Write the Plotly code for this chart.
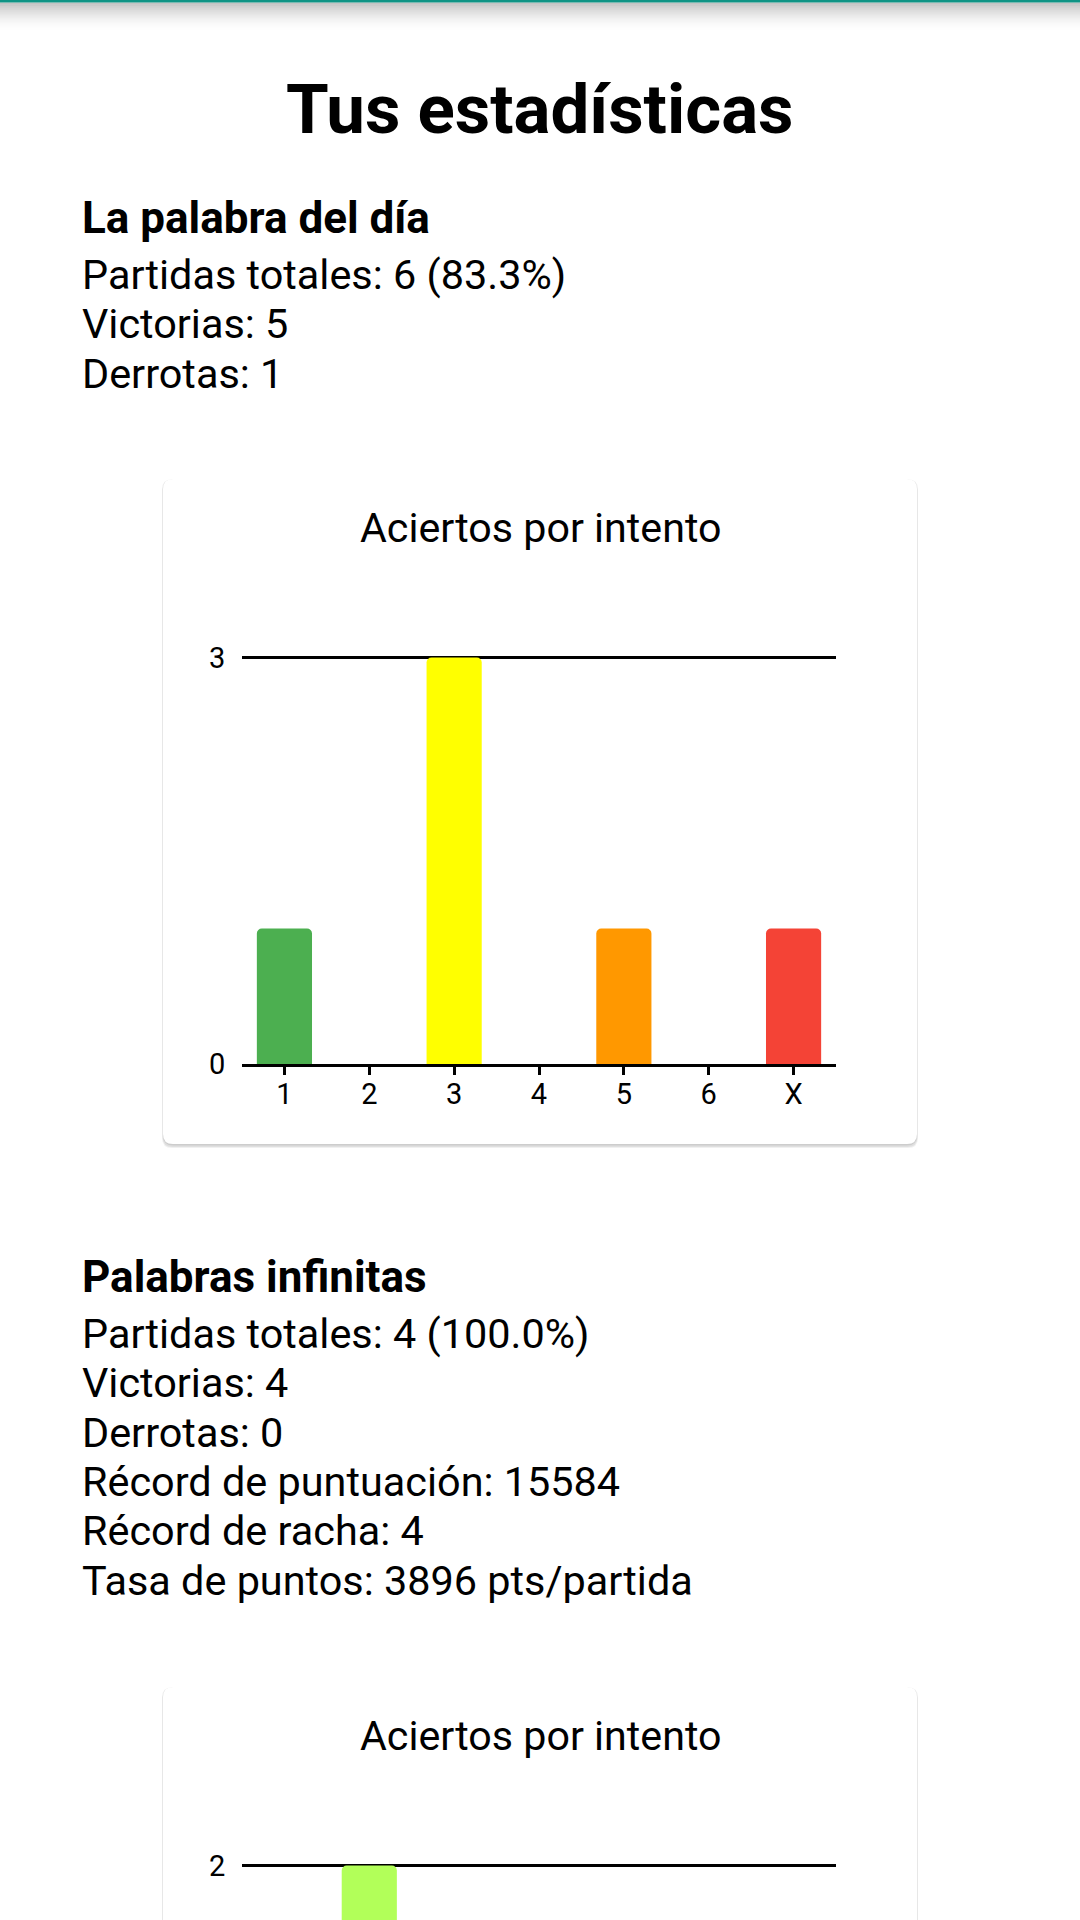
import plotly.graph_objects as go

W, H = 1080, 1920

# ---------------- data ----------------
categories = ["1", "2", "3", "4", "5", "6", "X"]
daily_values = [1, 0, 3, 0, 1, 0, 1]
infinite_values = [0, 2, 1, 1, 0, 0, 0]
bar_colors = ["#4CAF50", "#B2FF59", "#FFFF00", "#FFC107", "#FF9800", "#FF5722", "#F44336"]
daily_ticks = [0, 3]
infinite_ticks = [0, 2]

page_title = "Tus estadísticas"
daily_heading = "La palabra del día"
daily_lines = ["Partidas totales: 6 (83.3%)", "Victorias: 5", "Derrotas: 1"]
infinite_heading = "Palabras infinitas"
infinite_lines = [
    "Partidas totales: 4 (100.0%)",
    "Victorias: 4",
    "Derrotas: 0",
    "Récord de puntuación: 15584",
    "Récord de racha: 4",
    "Tasa de puntos: 3896 pts/partida",
]
chart_title = "Aciertos por intento"

# ---------------- geometry (pixels) ----------------
FONT = "Roboto"
TEXT_X = 80
CARD_L, CARD_R = 163, 917
CARD1_T, CARD1_B = 479, 1144
OFFSET2 = 1208
PLOT_L, PLOT_R = 242, 836
C1_TOP, C1_BOT = 657.5, 1064
C2_TOP, C2_BOT = C1_TOP + OFFSET2, C1_BOT + OFFSET2
HEADROOM = 4  # px above the top grid line so it is not clipped away


def px(x):
    return x / W


def py(y):
    return 1 - y / H


def rrect(x0, y0, x1, y1, r):
    X0, X1 = px(x0), px(x1)
    Y0, Y1 = py(y0), py(y1)
    rx, ry = r / W, r / H
    return (f"M{X0+rx},{Y0} L{X1-rx},{Y0} Q{X1},{Y0} {X1},{Y0-ry} "
            f"L{X1},{Y1+ry} Q{X1},{Y1} {X1-rx},{Y1} L{X0+rx},{Y1} "
            f"Q{X0},{Y1} {X0},{Y1+ry} L{X0},{Y0-ry} Q{X0},{Y0} {X0+rx},{Y0} Z")


fig = go.Figure()

fig.add_trace(go.Bar(
    x=categories, y=daily_values, marker=dict(color=bar_colors, line=dict(width=0)),
    xaxis="x", yaxis="y", showlegend=False, hoverinfo="x+y"))
fig.add_trace(go.Bar(
    x=categories, y=infinite_values, marker=dict(color=bar_colors, line=dict(width=0)),
    xaxis="x2", yaxis="y2", showlegend=False, hoverinfo="x+y"))

shapes = []
# top app-bar edge and its shadow
N_SH = 14
for i in range(N_SH):
    a = 0.24 * (1 - i / N_SH) ** 1.8
    shapes.append(dict(type="rect", xref="paper", yref="paper", layer="below",
                       x0=0, x1=1, y0=py(2.5 + 2 * (i + 1)), y1=py(2.5 + 2 * i),
                       fillcolor=f"rgba(0,0,0,{a:.3f})", line=dict(width=0)))
shapes.append(dict(type="rect", xref="paper", yref="paper", layer="below",
                   x0=0, x1=1, y0=py(2.5), y1=1, fillcolor="#0E9384", line=dict(width=0)))

# cards with soft shadow
for top, bot in [(CARD1_T, CARD1_B), (CARD1_T + OFFSET2, CARD1_B + OFFSET2 + 800)]:
    for dy, grow, a in [(4, 1, 0.06), (3, 0.5, 0.07), (1.5, 0, 0.08)]:
        shapes.append(dict(type="path", xref="paper", yref="paper", layer="below",
                           path=rrect(CARD_L - grow, top - grow + dy * 0.3, CARD_R + grow, bot + dy, 10),
                           fillcolor=f"rgba(0,0,0,{a})", line=dict(width=0)))
    shapes.append(dict(type="path", xref="paper", yref="paper", layer="below",
                       path=rrect(CARD_L, top, CARD_R, bot, 10),
                       fillcolor="white", line=dict(width=0)))

ann = []


def text(x, y, s, size, bold=False, xanchor="left"):
    ann.append(dict(xref="paper", yref="paper", x=px(x), y=py(y), text=s, showarrow=False,
                    xanchor=xanchor, yanchor="middle",
                    font=dict(family=FONT, size=size, color="#000",
                              weight="bold" if bold else "normal")))


BODY = 41.4
text(540, 110, page_title, 69, bold=True, xanchor="center")
text(TEXT_X, 218, daily_heading, 44, bold=True)
for i, s in enumerate(daily_lines):
    text(TEXT_X, 275 + 49.3 * i, s, BODY)
text(540, 528, chart_title, 41.2, xanchor="center")

text(TEXT_X, 1277, infinite_heading, 44, bold=True)
for i, s in enumerate(infinite_lines):
    text(TEXT_X, 1334 + 49.3 * i, s, BODY)
text(540, 528 + OFFSET2, chart_title, 41.2, xanchor="center")

axis_font = dict(family=FONT, size=29, color="#000")

ppu1 = (C1_BOT - C1_TOP) / max(daily_ticks)
y1_high = max(daily_ticks) + HEADROOM / ppu1

# chart 2 is only partially visible: map its range so the 2-line sits at C2_TOP
ppu2 = (C2_BOT - C2_TOP) / max(infinite_ticks)
y2_low = max(infinite_ticks) - (H - C2_TOP) / ppu2
y2_high = max(infinite_ticks) + HEADROOM / ppu2

fig.update_layout(
    width=W, height=H, autosize=False, margin=dict(l=0, r=0, t=0, b=0, pad=0, autoexpand=False),
    paper_bgcolor="white", plot_bgcolor="rgba(0,0,0,0)",
    bargap=0.35, barcornerradius=5,
    shapes=shapes, annotations=ann,
    xaxis=dict(domain=[px(PLOT_L), px(PLOT_R)], anchor="y", showgrid=False, zeroline=False,
               showline=True, linecolor="#000", linewidth=2.5, automargin=False,
               ticks="outside", ticklen=8, tickwidth=2.5, tickcolor="#000",
               ticklabelstandoff=-6, tickfont=axis_font, fixedrange=True),
    yaxis=dict(domain=[py(C1_BOT), py(C1_TOP - HEADROOM)], anchor="x", range=[0, y1_high],
               tickvals=daily_ticks, showgrid=True, gridcolor="#000", gridwidth=2.5,
               zeroline=False, showline=False, ticks="outside", ticklen=10, automargin=False,
               tickcolor="rgba(0,0,0,0)", tickfont=axis_font, fixedrange=True),
    xaxis2=dict(domain=[px(PLOT_L), px(PLOT_R)], anchor="y2", showgrid=False, zeroline=False,
                showline=False, showticklabels=False, automargin=False, fixedrange=True),
    yaxis2=dict(domain=[0, py(C2_TOP - HEADROOM)], anchor="x2", range=[y2_low, y2_high],
                tickvals=infinite_ticks, showgrid=True, gridcolor="#000", gridwidth=2.5,
                zeroline=False, showline=False, ticks="outside", ticklen=10, automargin=False,
                tickcolor="rgba(0,0,0,0)", tickfont=axis_font, fixedrange=True),
)

fig.write_html("out.html")
